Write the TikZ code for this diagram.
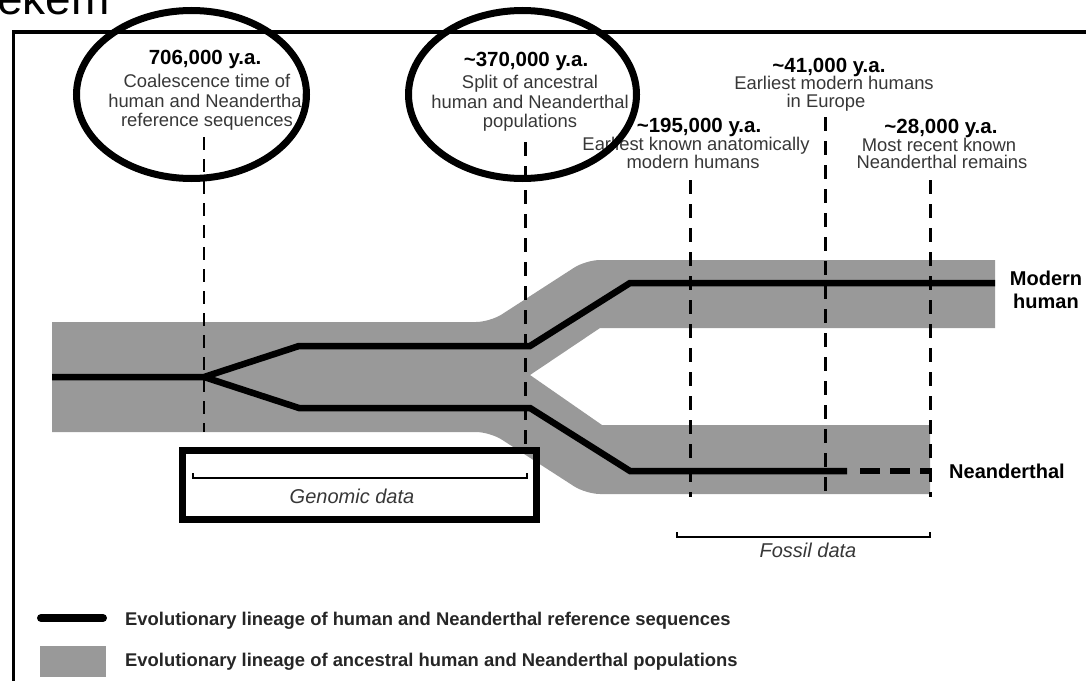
\documentclass[tikz,border=0pt]{standalone}
\usepackage{fontspec}
\setmainfont{Liberation Sans}
\definecolor{bandgray}{RGB}{153,153,153}
\definecolor{labelgray}{RGB}{55,55,55}
\begin{document}
\begin{tikzpicture}[x=1pt,y=-1pt,
  lineage/.style={line width=6.5pt, line join=miter},
  datemark/.style={line width=3pt, dash pattern=on 14pt off 10pt},
  finemark/.style={line width=1.8pt, dash pattern=on 13pt off 9pt},
  datetitle/.style={anchor=base, inner sep=0pt, font=\bfseries\fontsize{20.5}{22}\selectfont},
  note/.style={anchor=base, inner sep=0pt, text=labelgray, font=\fontsize{18.4}{20}\selectfont},
  lineagename/.style={anchor=base, inner sep=0pt, font=\bfseries\fontsize{20}{22}\selectfont},
  spanbar/.style={line width=2.5pt, line join=miter},
  spanname/.style={anchor=base, inner sep=0pt, text=labelgray, font=\itshape\fontsize{20}{22}\selectfont},
  keytext/.style={anchor=base west, inner sep=0pt, text=black!85, font=\bfseries\fontsize{18.4}{20}\selectfont},
  ring/.style={line width=7pt},
]
\useasboundingbox (0,0) rectangle (1086,680);

% heading fragment and frame
\node[anchor=base west, inner sep=0pt, font=\fontsize{46}{46}\selectfont] (heading) at (-3,14) {ekem};
\draw[line width=3.5pt] (13.7,700) -- (13.7,32) -- (1100,32);

% population band (grey)
\fill[bandgray] (995,260) -- (995,328) -- (600,328) -- (530,375) -- (602,425) -- (930,425) -- (930,494)
  [rounded corners=14pt] -- (586,494) -- (490,432) [sharp corners] -- (52,432) -- (52,322)
  [rounded corners=14pt] -- (490,322) -- (586,260) [sharp corners] -- cycle;

% date markers
\coordinate (m1t) at (204,137); \coordinate (m1b) at (204,432);
\coordinate (m2t) at (525,142); \coordinate (m2b) at (525,447);
\coordinate (m3t) at (690,180); \coordinate (m3b) at (690,497);
\coordinate (m4t) at (825,117); \coordinate (m4b) at (825,497);
\coordinate (m5t) at (930,180); \coordinate (m5b) at (930,497);
\draw[finemark] (m1t) -- (m1b);
\draw[datemark] (m2t) -- (m2b);
\draw[datemark] (m3t) -- (m3b);
\draw[datemark] (m4t) -- (m4b);
\draw[datemark] (m5t) -- (m5b);

% reference sequence lineages
\coordinate (root) at (52,377);
\coordinate (coal) at (204,377);
\coordinate (hu1) at (299,346); \coordinate (hu2) at (530,346); \coordinate (hu3) at (630,283); \coordinate (hu4) at (995,283);
\coordinate (ne1) at (299,408); \coordinate (ne2) at (530,408); \coordinate (ne3) at (630,471); \coordinate (ne4) at (847,471);
\coordinate (ne5) at (860,471); \coordinate (ne6) at (930,471);
\draw[lineage] (root) -- (coal) -- (hu1) -- (hu2) -- (hu3) -- (hu4);
\draw[lineage] (coal) -- (ne1) -- (ne2) -- (ne3) -- (ne4);
\draw[lineage, dash pattern=on 20pt off 10pt] (ne5) -- (ne6);

\node[lineagename] (modern1) at (1046,285) {Modern};
\node[lineagename] (modern2) at (1046,308) {human};
\node[lineagename, anchor=base west] (neand) at (949,478) {Neanderthal};

% date labels
\node[datetitle] (d1) at (205,64) {706,000 y.a.};
\node[note] (d1a) at (207,87) {Coalescence time of};
\node[note] (d1b) at (207,107) {human and Neanderthal};
\node[note] (d1c) at (207,126) {reference sequences};

\node[datetitle] (d2) at (526,66) {\textasciitilde370,000 y.a.};
\node[note] (d2a) at (530,88) {Split of ancestral};
\node[note] (d2b) at (530,108) {human and Neanderthal};
\node[note] (d2c) at (530,127) {populations};

\node[datetitle] (d3) at (699,132) {\textasciitilde195,000 y.a.};
\node[note] (d3a) at (696,150) {Earliest known anatomically};
\node[note] (d3b) at (693,168) {modern humans};

\node[datetitle] (d4) at (829,72) {\textasciitilde41,000 y.a.};
\node[note] (d4a) at (834,89) {Earliest modern humans};
\node[note] (d4b) at (826,107) {in Europe};

\node[datetitle] (d5) at (941,133) {\textasciitilde28,000 y.a.};
\node[note] (d5a) at (939,151) {Most recent known};
\node[note] (d5b) at (942,168) {Neanderthal remains};

% data spans
\coordinate (g1) at (193,473); \coordinate (g2) at (193,478); \coordinate (g3) at (527,478); \coordinate (g4) at (527,473);
\draw[spanbar] (g1) -- (g2) -- (g3) -- (g4);
\node[spanname] (genomic) at (352,503) {Genomic data};
\coordinate (f1) at (677,532); \coordinate (f2) at (677,537); \coordinate (f3) at (930,537); \coordinate (f4) at (930,532);
\draw[spanbar] (f1) -- (f2) -- (f3) -- (f4);
\node[spanname] (fossil) at (808,557) {Fossil data};

% highlight marks
\node[draw, ring, minimum width=354pt, minimum height=69pt, inner sep=0pt] (gbox) at (359.5,485) {};
\draw[ring] (191.5,94.5) ellipse [x radius=115pt, y radius=84pt];
\draw[ring] (522.5,94.5) ellipse [x radius=114pt, y radius=84pt];

% key
\coordinate (k1) at (41,618); \coordinate (k2) at (103,618);
\draw[line width=8pt, line cap=round] (k1) -- (k2);
\fill[bandgray] (40,646) rectangle (106,677);
\node[keytext] (key1) at (125,625) {Evolutionary lineage of human and Neanderthal reference sequences};
\node[keytext] (key2) at (125,666) {Evolutionary lineage of ancestral human and Neanderthal populations};
\end{tikzpicture}
\end{document}
